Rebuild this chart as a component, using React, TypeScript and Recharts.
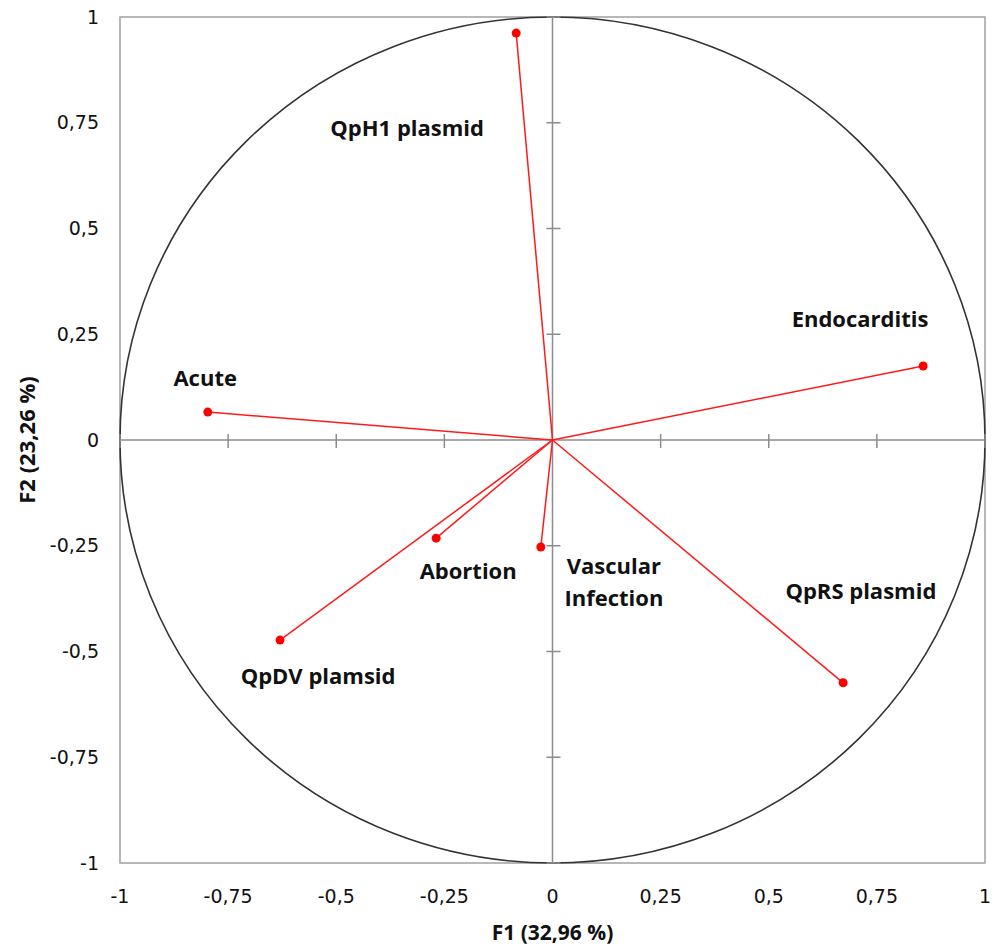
import React from 'react';
import { ScatterChart, Scatter, XAxis, YAxis, ReferenceLine, ReferenceArea, ReferenceDot, Label } from 'recharts';

// Variable loadings on F1 / F2
const variables = ['QpH1 plasmid', 'Endocarditis', 'Acute', 'Abortion', 'Vascular\nInfection', 'QpRS plasmid', 'QpDV plamsid'];
const f1Values = [-0.084, 0.857, -0.797, -0.269, -0.027, 0.672, -0.630];
const f2Values = [0.962, 0.175, 0.066, -0.232, -0.253, -0.574, -0.473];
// label anchor positions (data units)
const labelF1 = [-0.336, 0.711, -0.803, -0.195, 0.142, 0.713, -0.542];
const labelF2 = [0.740, 0.288, 0.149, -0.307, -0.333, -0.355, -0.556];
const axisTicks = [-1, -0.75, -0.5, -0.25, 0, 0.25, 0.5, 0.75, 1];

const points = variables.map((name, i) => ({ name, x: f1Values[i], y: f2Values[i] }));
const labels = variables.map((name, i) => ({ name, x: labelF1[i], y: labelF2[i] }));

const fmt = (v: number) => String(v).replace('.', ',');
const LABEL_FONT = '"Open Sans", sans-serif';
const TICK_FONT = '"DejaVu Sans", sans-serif';

const FrameAndCircle = (p: any) => {
  const { x, y, width, height } = p;
  return (
    <g>
      <rect x={x} y={y} width={width} height={height} fill="none" stroke="#a0a0a0" strokeWidth={1.5} />
      <ellipse cx={x + width / 2} cy={y + height / 2} rx={width / 2} ry={height / 2} fill="none" stroke="#333" strokeWidth={1.6} />
    </g>
  );
};

const LabelShape = (p: any) => {
  const lines = String(p.payload.name).split('\n');
  const lh = 32;
  const start = p.cy - ((lines.length - 1) * lh) / 2;
  return (
    <text textAnchor="middle" fontFamily={LABEL_FONT} fontWeight={700} fontSize={22} fill="#111">
      {lines.map((l, i) => (
        <tspan key={i} x={p.cx} y={start + i * lh} dominantBaseline="central">{l}</tspan>
      ))}
    </text>
  );
};

export default function App() {
  return (
    <div style={{ position: 'absolute', left: 0, top: 0, background: '#fff' }}>
      <ScatterChart width={1003} height={948} margin={{ top: 17, right: 18, bottom: 35, left: 40 }}>
        <XAxis
          type="number"
          dataKey="x"
          domain={[-1, 1]}
          ticks={axisTicks}
          tickFormatter={fmt}
          axisLine={false}
          tickLine={false}
          tickSize={0}
          tickMargin={27}
          height={50}
          interval={0}
          allowDataOverflow
          tick={{ fill: '#111', fontSize: 19, fontFamily: TICK_FONT }}
        >
          <Label
            content={(props: any) => {
              const vb = props.viewBox;
              return (
                <text x={vb.x + vb.width / 2} y={932} textAnchor="middle" dominantBaseline="central"
                  fontFamily={LABEL_FONT} fontWeight={700} fontSize={21} fill="#111">F1 (32,96 %)</text>
              );
            }}
          />
        </XAxis>
        <YAxis
          type="number"
          dataKey="y"
          domain={[-1, 1]}
          ticks={axisTicks}
          tickFormatter={fmt}
          axisLine={false}
          tickLine={false}
          tickSize={0}
          tickMargin={21}
          width={80}
          interval={0}
          allowDataOverflow
          tick={{ fill: '#111', fontSize: 19, fontFamily: TICK_FONT }}
        >
          <Label
            content={(props: any) => {
              const vb = props.viewBox;
              const cy = vb.y + vb.height / 2;
              return (
                <text x={26} y={cy} transform={`rotate(-90 26 ${cy})`} textAnchor="middle" dominantBaseline="central"
                  fontFamily={LABEL_FONT} fontWeight={700} fontSize={22} fill="#111">F2 (23,26 %)</text>
              );
            }}
          />
        </YAxis>
        <ReferenceArea x1={-1} x2={1} y1={-1} y2={1} shape={FrameAndCircle} />
        <ReferenceLine x={0} stroke="#8c8c8c" strokeWidth={1.5} />
        <ReferenceLine y={0} stroke="#8c8c8c" strokeWidth={1.5} />
        {axisTicks.filter((t) => t !== 0).map((t) => (
          <ReferenceDot key={`xt${t}`} x={t} y={0} r={0}
            shape={(p: any) => <line x1={p.cx} x2={p.cx} y1={p.cy - 6} y2={p.cy + 8} stroke="#8c8c8c" strokeWidth={1.5} />} />
        ))}
        {axisTicks.filter((t) => t !== 0).map((t) => (
          <ReferenceDot key={`yt${t}`} x={0} y={t} r={0}
            shape={(p: any) => <line x1={p.cx - 6} x2={p.cx + 8} y1={p.cy} y2={p.cy} stroke="#8c8c8c" strokeWidth={1.5} />} />
        ))}
        {points.map((pt) => (
          <ReferenceLine key={`v${pt.name}`} segment={[{ x: 0, y: 0 }, { x: pt.x, y: pt.y }]} stroke="#ff1a1a" strokeWidth={1.5} />
        ))}
        <Scatter data={points} isAnimationActive={false}
          shape={(p: any) => <circle cx={p.cx} cy={p.cy} r={4.5} fill="#f00" />} />
        <Scatter data={labels} isAnimationActive={false} shape={LabelShape} />
      </ScatterChart>
    </div>
  );
}
